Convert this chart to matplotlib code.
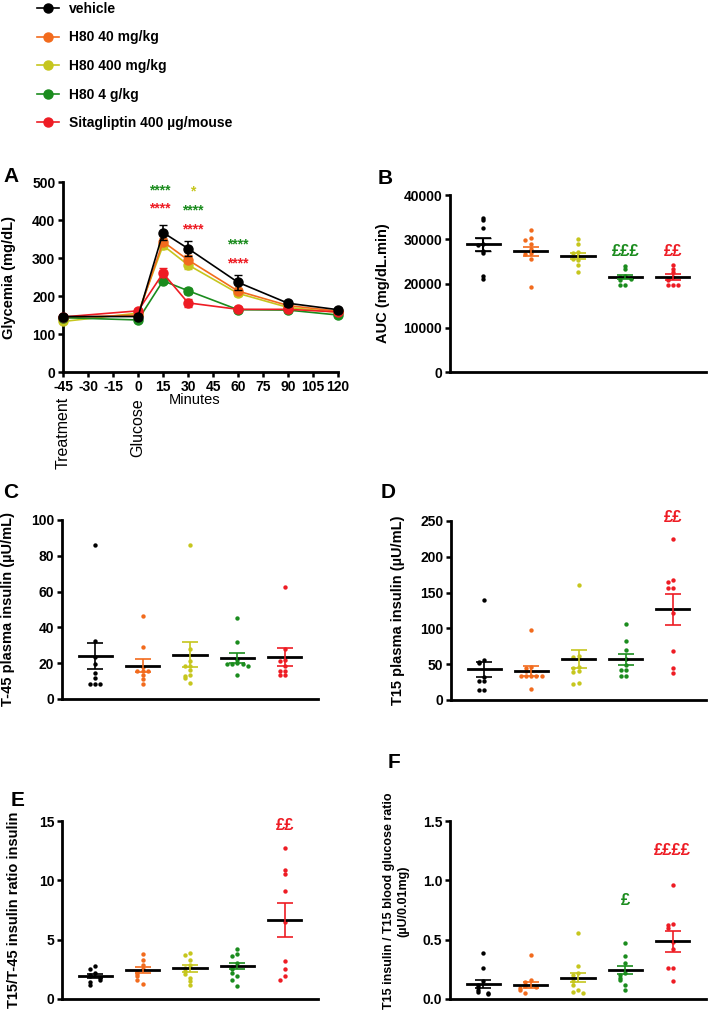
import matplotlib
matplotlib.use("Agg")
import matplotlib.pyplot as plt
from matplotlib.lines import Line2D

plt.rcParams['font.family'] = ['Liberation Sans', 'DejaVu Sans']
plt.rcParams['font.weight'] = 'bold'
plt.rcParams['axes.labelweight'] = 'bold'
plt.rcParams['axes.unicode_minus'] = False

# groups and colours
groups = ['vehicle', 'H80 40 mg/kg', 'H80 400 mg/kg', 'H80 4 g/kg', 'Sitagliptin 400 µg/mouse']
colors = ['#000000', '#F26B1D', '#C6C61E', '#1B8C1E', '#EE1C24']

# panel A: glycemia over time
times = [-45, 0, 15, 30, 60, 90, 120]
gly_vehicle = [146, 146, 367, 325, 236, 181, 164]
gly_h40 = [143, 150, 343, 295, 213, 175, 160]
gly_h400 = [133, 155, 333, 282, 207, 170, 157]
gly_h4g = [143, 137, 240, 214, 164, 163, 150]
gly_sita = [145, 161, 260, 182, 165, 165, 158]
sem_vehicle = [5, 5, 19, 20, 20, 6, 5]
sem_h40 = [5, 5, 10, 12, 9, 5, 4]
sem_h400 = [5, 5, 10, 10, 8, 5, 4]
sem_h4g = [5, 4, 6, 8, 5, 4, 4]
sem_sita = [5, 5, 14, 10, 5, 5, 4]
star_x = [13, 13, 33, 33, 33, 60, 60]
star_y = [478, 430, 474, 424, 375, 336, 286]
star_txt = ['****', '****', '*', '****', '****', '****', '****']
star_grp = [3, 4, 2, 3, 4, 3, 4]

# panel B: AUC
auc_vehicle = [34900, 34300, 32600, 29000, 28700, 26800, 27300, 21700, 21100]
auc_h40 = [32200, 30200, 29900, 28900, 27700, 26900, 26700, 25500, 19200]
auc_h400 = [30100, 29000, 27100, 26900, 26200, 25300, 25600, 24100, 22600]
auc_h4g = [23900, 23400, 21700, 21500, 21300, 21100, 20800, 19600, 19600]
auc_sita = [24200, 23200, 22700, 21500, 21100, 20800, 19600, 19600, 19600]
auc_mean = [28900, 27300, 26300, 21500, 21500]
auc_sem = [1500, 1000, 700, 450, 600]

# panel C: T-45 insulin
c_vehicle = [85.8, 32.2, 23.6, 19.5, 14.5, 11.5, 8.2, 8.2, 8.2]
c_h40 = [46.3, 28.8, 18.0, 15.8, 15.8, 15.8, 13.5, 11.0, 8.2]
c_h400 = [86.1, 28.0, 21.3, 18.2, 18.2, 16.3, 13.5, 13.1, 11.6, 9.0]
c_h4g = [45.3, 31.8, 21.7, 20.0, 19.5, 19.5, 19.5, 18.5, 13.3]
c_sita = [62.5, 27.9, 21.7, 21.0, 18.4, 15.7, 15.7, 13.5, 13.5]
c_mean = [23.8, 18.6, 24.6, 22.7, 23.6]
c_sem = [7.3, 3.75, 7.0, 2.8, 5.0]

# panel D: T15 insulin
d_vehicle = [139.6, 56, 53, 51, 32.5, 26.4, 26.4, 13.7, 13.7]
d_h40 = [97.6, 46.7, 44.3, 40.6, 34, 33.5, 33.5, 33, 33, 15.1]
d_h400 = [160.8, 61, 60.5, 45.8, 44.3, 40, 39, 23.6, 22.6]
d_h4g = [106.6, 82, 69.3, 57.5, 49, 42, 42, 34, 34]
d_sita = [224.5, 168, 164.6, 156, 156, 120.8, 68, 44.3, 37.3]
d_mean = [43, 40.6, 57, 57, 126.4]
d_sem = [10.6, 6.8, 12.5, 7.5, 21.5]

# panel E: T15/T-45 ratio
e_vehicle = [2.8, 2.55, 2.2, 2.0, 1.9, 1.8, 1.6, 1.4, 1.2]
e_h40 = [3.76, 3.26, 2.9, 2.5, 2.3, 2.1, 1.9, 1.6, 1.3]
e_h400 = [3.9, 3.7, 3.3, 2.9, 2.6, 2.4, 2.1, 1.8, 1.5, 1.2]
e_h4g = [4.2, 3.8, 3.6, 3.0, 2.7, 2.5, 2.2, 1.9, 1.6, 1.1]
e_sita = [12.7, 10.9, 10.5, 9.1, 6.5, 3.2, 2.5, 1.9, 1.6]
e_mean = [1.95, 2.45, 2.6, 2.75, 6.65]
e_sem = [0.15, 0.25, 0.3, 0.25, 1.43]

# panel F: insulin / glucose ratio
f_vehicle = [0.39, 0.26, 0.15, 0.12, 0.10, 0.08, 0.06, 0.05, 0.04]
f_h40 = [0.37, 0.16, 0.14, 0.12, 0.11, 0.10, 0.09, 0.08, 0.05]
f_h400 = [0.555, 0.28, 0.22, 0.20, 0.18, 0.15, 0.12, 0.08, 0.06, 0.05]
f_h4g = [0.475, 0.36, 0.305, 0.22, 0.20, 0.18, 0.16, 0.12, 0.08]
f_sita = [0.96, 0.635, 0.62, 0.60, 0.48, 0.42, 0.26, 0.26, 0.15]
f_mean = [0.125, 0.12, 0.18, 0.245, 0.485]
f_sem = [0.035, 0.025, 0.04, 0.035, 0.085]

# significance marks (group index, y value, text)
b_marks = [(3, 27300, '£££'), (4, 27300, '££')]
d_marks = [(4, 255, '££')]
e_marks = [(4, 14.6, '££')]
f_marks = [(3, 0.83, '£'), (4, 1.25, '££££')]

FS = 10


def style_axes(ax):
    for s in ['top', 'right']:
        ax.spines[s].set_visible(False)
    for s in ['left', 'bottom']:
        ax.spines[s].set_linewidth(2)
    ax.tick_params(direction='out', width=1.8, length=3.5, pad=2, labelsize=FS)
    for lab in ax.get_xticklabels() + ax.get_yticklabels():
        lab.set_fontweight('bold')


def swarm(vals, tol, step=0.11):
    pattern = [0, -1, 1, -2, 2, -3, 3]
    offs = []
    for i, v in enumerate(vals):
        k = sum(1 for w in vals[:i] if abs(w - v) <= tol)
        offs.append(pattern[k % len(pattern)] * step)
    return offs


def dot_panel(ax, data, means, sems, tol, ylim, yticks, marks):
    for i, vals in enumerate(data):
        offs = swarm(vals, tol)
        ax.scatter([i + o for o in offs], vals, s=10, color=colors[i], zorder=3, linewidths=0)
        ax.plot([i - 0.35, i + 0.35], [means[i], means[i]], color='black', lw=2, zorder=4)
        ax.errorbar(i, means[i], yerr=sems[i], color=colors[i], capsize=6, capthick=1.2,
                    elinewidth=1.2, fmt='none', zorder=4)
    for g, y, t in marks:
        ax.text(g, y, t, color=colors[g], ha='center', va='center', fontsize=12,
                fontweight='bold', clip_on=False)
    ax.set_xlim(-0.7, 4.7)
    ax.set_ylim(*ylim)
    ax.set_yticks(yticks)
    ax.set_xticks([])
    style_axes(ax)


fig = plt.figure(figsize=(7.09, 10.30), dpi=100)

# panel A
axA = fig.add_axes([0.0889, 0.6388, 0.3879, 0.1845])
gly = [gly_vehicle, gly_h40, gly_h400, gly_h4g, gly_sita]
gsem = [sem_vehicle, sem_h40, sem_h400, sem_h4g, sem_sita]
handles = [None] * 5
for i in [2, 1, 3, 4, 0]:
    axA.errorbar(times, gly[i], yerr=gsem[i], color=colors[i], marker='o', ms=6.5,
                 lw=1.2, capsize=3, elinewidth=1.2, clip_on=False, zorder=3 + (i == 0))
    handles[i] = Line2D([], [], color=colors[i], marker='o', ms=6.5, lw=1.2)
for x, y, t, g in zip(star_x, star_y, star_txt, star_grp):
    axA.text(x, y, t, color=colors[g], ha='center', va='center', fontsize=10, fontweight='bold')
axA.set_xlim(-45, 120)
axA.set_ylim(0, 500)
axA.set_xticks(range(-45, 121, 15))
axA.set_yticks(range(0, 501, 100))
axA.set_ylabel('Glycemia (mg/dL)', fontsize=FS + 0.5)
axA.yaxis.set_label_coords(-0.17, 0.5)
style_axes(axA)
axA.text(-45, -0.13, 'Treatment', transform=axA.get_xaxis_transform(), rotation=90,
         ha='center', va='top', fontsize=11.5, fontweight='normal')
axA.text(0, -0.14, 'Glucose', transform=axA.get_xaxis_transform(), rotation=90,
         ha='center', va='top', fontsize=11.5, fontweight='normal')
axA.text(34, -0.145, 'Minutes', transform=axA.get_xaxis_transform(),
         ha='center', va='center', fontsize=10.5, fontweight='normal')

fig.legend(handles, groups, loc='upper left', bbox_to_anchor=(0.042, 1.005), frameon=False,
           handlelength=1.6, labelspacing=1.05, handletextpad=0.75, borderpad=0,
           prop={'weight': 'bold', 'size': 10})

# panel B
axB = fig.add_axes([0.6347, 0.6388, 0.3611, 0.1718])
dot_panel(axB, [auc_vehicle, auc_h40, auc_h400, auc_h4g, auc_sita], auc_mean, auc_sem,
          400, (0, 40000), range(0, 40001, 10000), b_marks)
axB.errorbar(0, auc_mean[0], yerr=auc_sem[0], color='black', capsize=6, fmt='none', zorder=4)
axB.set_ylabel('AUC (mg/dL.min)', fontsize=FS + 0.5)
axB.yaxis.set_label_coords(-0.235, 0.5)

# panel C
axC = fig.add_axes([0.0874, 0.3214, 0.3611, 0.1738])
dot_panel(axC, [c_vehicle, c_h40, c_h400, c_h4g, c_sita], c_mean, c_sem,
          1.5, (0, 100), range(0, 101, 20), [])
axC.set_ylabel('T-45 plasma insulin (µU/mL)', fontsize=FS + 0.5)
axC.yaxis.set_label_coords(-0.184, 0.5)

# panel D
axD = fig.add_axes([0.6361, 0.3204, 0.3597, 0.1738])
dot_panel(axD, [d_vehicle, d_h40, d_h400, d_h4g, d_sita], d_mean, d_sem,
          4, (0, 250), range(0, 251, 50), d_marks)
axD.set_ylabel('T15 plasma insulin (µU/mL)', fontsize=FS + 0.5)
axD.yaxis.set_label_coords(-0.18, 0.5)

# panel E
axE = fig.add_axes([0.0874, 0.0301, 0.3611, 0.1728])
dot_panel(axE, [e_vehicle, e_h40, e_h400, e_h4g, e_sita], e_mean, e_sem,
          0.3, (0, 15), range(0, 16, 5), e_marks)
axE.set_ylabel('T15/T-45 insulin ratio insulin', fontsize=FS + 0.5)
axE.yaxis.set_label_coords(-0.16, 0.5)

# panel F
axF = fig.add_axes([0.6347, 0.0301, 0.3611, 0.1728])
dot_panel(axF, [f_vehicle, f_h40, f_h400, f_h4g, f_sita], f_mean, f_sem,
          0.03, (0, 1.5), [0, 0.5, 1.0, 1.5], f_marks)
axF.set_yticklabels(['0.0', '0.5', '1.0', '1.5'])
for lab in axF.get_yticklabels():
    lab.set_fontweight('bold')
axF.set_ylabel('T15 insulin / T15 blood glucose ratio\n(µU/0.01mg)', fontsize=9,
               linespacing=1.2)
axF.yaxis.set_label_coords(-0.16, 0.55)

# panel letters
for x, y, t in [(0.005, 0.829, 'A'), (0.532, 0.827, 'B'), (0.005, 0.522, 'C'),
                (0.537, 0.522, 'D'), (0.015, 0.223, 'E'), (0.547, 0.26, 'F')]:
    fig.text(x, y, t, fontsize=15, fontweight='bold', ha='left', va='center')

fig.savefig('out.png', dpi=100)
